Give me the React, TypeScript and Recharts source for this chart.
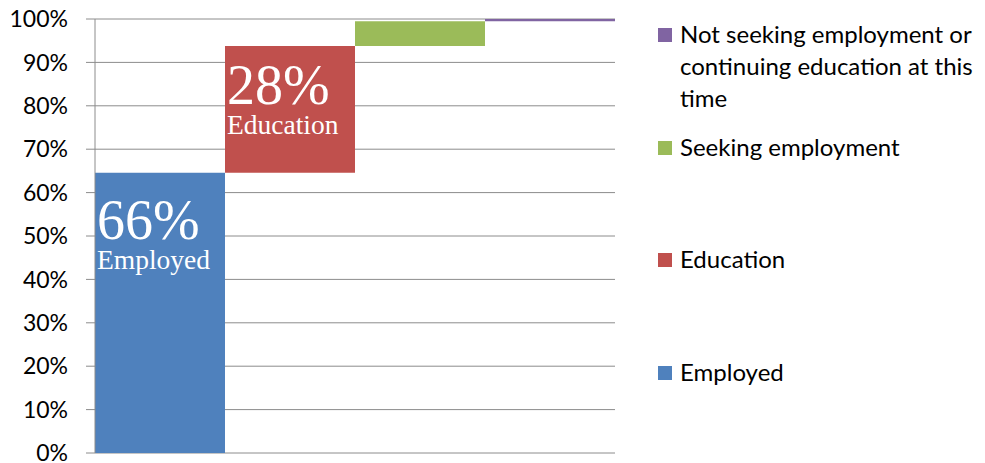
import { BarChart, Bar, XAxis, YAxis, CartesianGrid, LabelList, Cell } from 'recharts'

const categories = [
  'Employed',
  'Education',
  'Seeking employment',
  'Not seeking employment or continuing education at this time',
]
const shares = [64.6, 29.2, 5.7, 0.5]
const pctLabels = ['66%', '28%', '', '']
const nameLabels = ['Employed', 'Education', '', '']
const colors = ['#4F81BD', '#C0504D', '#9BBB59', '#8064A2']
const yTicks = [0, 10, 20, 30, 40, 50, 60, 70, 80, 90, 100]

// waterfall: invisible base stacked under each visible step
const data = categories.map((name, i) => ({
  name,
  base: shares.slice(0, i).reduce((a, b) => a + b, 0),
  value: shares[i],
  pct: pctLabels[i],
  label: nameLabels[i],
}))

const serif = '"Liberation Serif", "DejaVu Serif", serif'
const sans = 'Lato, "Open Sans", sans-serif'

// labels sit a bit lower in taller bars, like the original
const PctLabel = (props: any) => {
  const { x, y, height, value } = props
  if (!value) return null
  return (
    <text x={x + 2} y={y + 51 + height * 0.055} fill="#fff" fontFamily={serif} fontSize={56}>
      {value}
    </text>
  )
}

const NameLabel = (props: any) => {
  const { x, y, height, value } = props
  if (!value) return null
  return (
    <text x={x + 2} y={y + 82 + height * 0.052} fill="#fff" fontFamily={serif} fontSize={27.5}>
      {value}
    </text>
  )
}

function LegendBox() {
  const items = categories.map((c, i) => ({ c, color: colors[i] })).reverse()
  return (
    <div style={{ position: 'absolute', left: 658, top: 0, width: 327, fontFamily: sans }}>
      {items.map((it, i) => (
        <div
          key={it.c}
          style={{
            position: 'absolute',
            top: 18 + i * 112.7,
            left: 0,
            display: 'flex',
            alignItems: 'flex-start',
            width: 327,
          }}
        >
          <div style={{ width: 14, height: 14, background: it.color, marginTop: 10, flexShrink: 0 }} />
          <div style={{ marginLeft: 8, fontSize: 24, lineHeight: '32px', color: '#000', width: 302 }}>
            {it.c}
          </div>
        </div>
      ))}
    </div>
  )
}

export default function App() {
  return (
    <div style={{ position: 'absolute', left: 0, top: 0, width: 985, height: 463, background: '#fff' }}>
      <BarChart
        width={985}
        height={463}
        data={data}
        margin={{ top: 19, right: 370, bottom: 10, left: 0 }}
        barCategoryGap={0}
        barGap={0}
      >
        <CartesianGrid vertical={false} stroke="#8c8c8c" />
        <XAxis dataKey="name" tick={false} tickLine={false} axisLine={{ stroke: '#8c8c8c' }} height={0} />
        <YAxis
          width={95}
          domain={[0, 100]}
          ticks={yTicks}
          interval={0}
          tickFormatter={(v: number) => `${v}%`}
          tick={{ fill: '#000', fontSize: 23, fontFamily: sans }}
          tickSize={9}
          tickMargin={18}
          tickLine={{ stroke: '#8c8c8c' }}
          axisLine={{ stroke: '#8c8c8c' }}
        />
        <Bar dataKey="base" stackId="w" fill="transparent" isAnimationActive={false} />
        <Bar dataKey="value" stackId="w" isAnimationActive={false}>
          {data.map((d, i) => (
            <Cell key={d.name} fill={colors[i]} />
          ))}
          <LabelList dataKey="pct" content={PctLabel} />
          <LabelList dataKey="label" content={NameLabel} />
        </Bar>
      </BarChart>
      <LegendBox />
    </div>
  )
}
